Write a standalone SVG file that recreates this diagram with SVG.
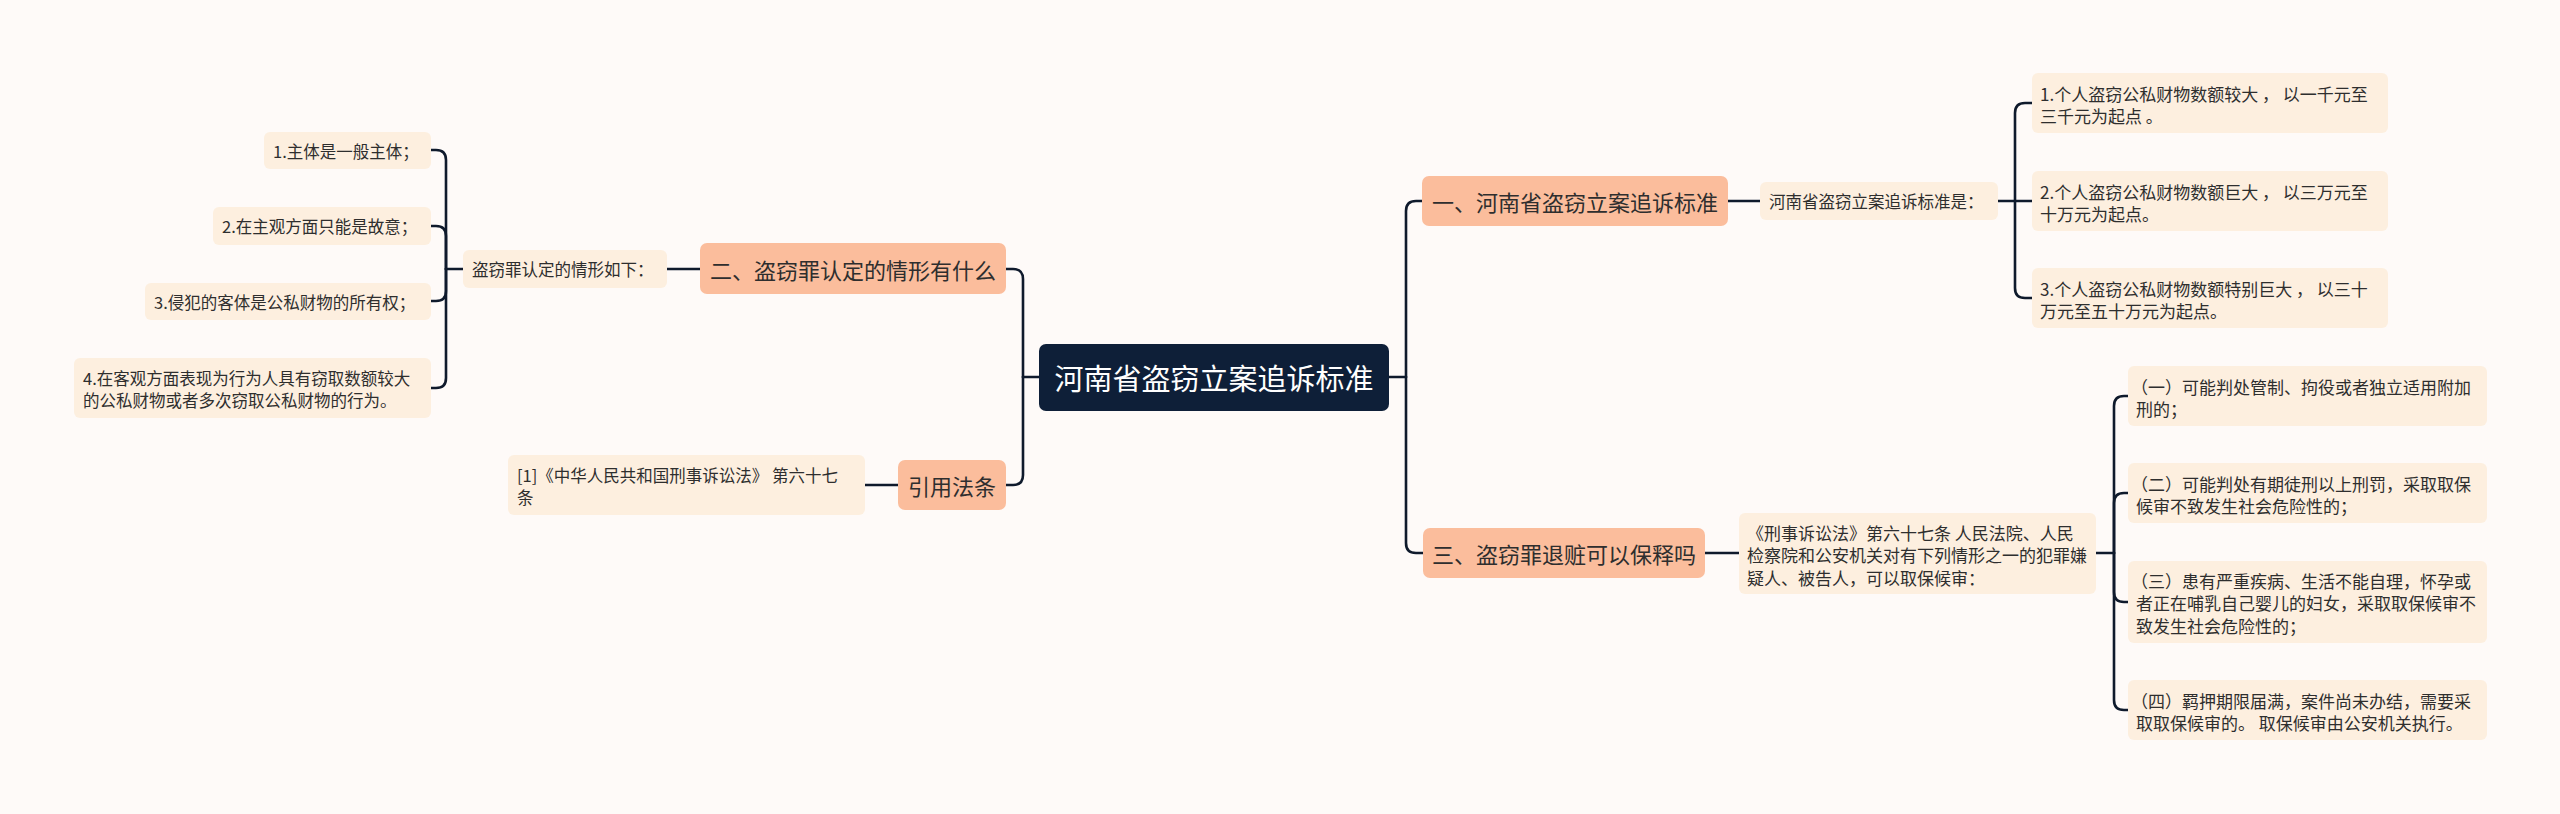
<svg xmlns="http://www.w3.org/2000/svg" width="2560" height="814" viewBox="0 0 2560 814">
<style>
.bg{fill:#fefaf8}
.leaf{fill:#fdefdf}
.l1{fill:#fbbd9c}
.root{fill:#0e1f38}
text{font-family:"Noto Sans CJK SC","Noto Sans",sans-serif;fill:#2e2e2e;dominant-baseline:central}
.t16{font-size:16.5px}
.t17{font-size:17px}
.t22{font-size:22px;text-anchor:middle}
.t29{font-size:29px;text-anchor:middle;fill:#ffffff}
.conn path{fill:none;stroke:#0f1a2c;stroke-width:2.6;stroke-linecap:round}
</style>
<rect class="bg" x="0" y="0" width="2560" height="814"/>
<g id="connectors" class="conn">
<path d="M1039,377 H1023"/>
<path d="M1023,377 V279 Q1023,269 1013,269 H1006"/>
<path d="M1023,377 V475 Q1023,485 1013,485 H1006"/>
<path d="M700,269 H667"/>
<path d="M865,485 H898"/>
<path d="M463,269 H446"/>
<path d="M446,269 V160 Q446,150 436,150 H431"/>
<path d="M446,269 V236 Q446,226 436,226 H431"/>
<path d="M446,269 V291 Q446,301 436,301 H431"/>
<path d="M446,269 V378 Q446,388 436,388 H431"/>
<path d="M1389,377 H1406"/>
<path d="M1406,377 V211 Q1406,201 1416,201 H1422"/>
<path d="M1406,377 V543 Q1406,553 1416,553 H1423"/>
<path d="M1728,201 H1760"/>
<path d="M1998,201 H2032"/>
<path d="M2015,201 V113 Q2015,103 2025,103 H2032"/>
<path d="M2015,201 V288 Q2015,298 2025,298 H2032"/>
<path d="M1705,553 H1739"/>
<path d="M2096,553 H2114"/>
<path d="M2114,553 V406 Q2114,396 2124,396 H2128"/>
<path d="M2114,553 V503 Q2114,493 2124,493 H2128"/>
<path d="M2114,553 V592 Q2114,602 2124,602 H2128"/>
<path d="M2114,553 V700 Q2114,710 2124,710 H2128"/>
</g>
<g id="root">
<rect class="root" x="1039" y="344" width="350" height="67" rx="7"/>
<text class="t29" x="1214" y="377">河南省盗窃立案追诉标准</text>
</g>
<g id="b2">
<rect class="l1" x="700" y="243" width="306" height="51" rx="7"/>
<text class="t22" x="853" y="269">二、盗窃罪认定的情形有什么</text>
</g>
<g id="b2-sub">
<rect class="leaf" x="463" y="250" width="204" height="38" rx="6"/>
<text class="t16" x="472" y="269">盗窃罪认定的情形如下：</text>
</g>
<g id="b2-1">
<rect class="leaf" x="264" y="132" width="167" height="37" rx="6"/>
<text class="t16" x="273" y="150.5">1.主体是一般主体；</text>
</g>
<g id="b2-2">
<rect class="leaf" x="213" y="207" width="218" height="38" rx="6"/>
<text class="t16" x="222" y="226">2.在主观方面只能是故意；</text>
</g>
<g id="b2-3">
<rect class="leaf" x="145" y="283" width="286" height="37" rx="6"/>
<text class="t16" x="154" y="301.5">3.侵犯的客体是公私财物的所有权；</text>
</g>
<g id="b2-4">
<rect class="leaf" x="74" y="358" width="357" height="60" rx="6"/>
<text class="t16" x="83" y="377.5">4.在客观方面表现为行为人具有窃取数额较大</text>
<text class="t16" x="83" y="399.5">的公私财物或者多次窃取公私财物的行为。</text>
</g>
<g id="b4">
<rect class="l1" x="898" y="460" width="108" height="50" rx="7"/>
<text class="t22" x="952" y="485">引用法条</text>
</g>
<g id="b4-1">
<rect class="leaf" x="508" y="455" width="357" height="60" rx="6"/>
<text class="t16" x="517" y="474.5">[1]《中华人民共和国刑事诉讼法》 第六十七</text>
<text class="t16" x="517" y="496.5">条</text>
</g>
<g id="b1">
<rect class="l1" x="1422" y="176" width="306" height="50" rx="7"/>
<text class="t22" x="1575" y="201">一、河南省盗窃立案追诉标准</text>
</g>
<g id="b1-sub">
<rect class="leaf" x="1760" y="182" width="238" height="38" rx="6"/>
<text class="t16" x="1769" y="201">河南省盗窃立案追诉标准是：</text>
</g>
<g id="b1-1">
<rect class="leaf" x="2032" y="73" width="356" height="60" rx="6"/>
<text class="t17" x="2040" y="93">1.个人盗窃公私财物数额较大 ， 以一千元至</text>
<text class="t17" x="2040" y="115">三千元为起点 。</text>
</g>
<g id="b1-2">
<rect class="leaf" x="2032" y="171" width="356" height="60" rx="6"/>
<text class="t17" x="2040" y="191">2.个人盗窃公私财物数额巨大 ， 以三万元至</text>
<text class="t17" x="2040" y="213">十万元为起点。</text>
</g>
<g id="b1-3">
<rect class="leaf" x="2032" y="268" width="356" height="60" rx="6"/>
<text class="t17" x="2040" y="288">3.个人盗窃公私财物数额特别巨大 ， 以三十</text>
<text class="t17" x="2040" y="310">万元至五十万元为起点。</text>
</g>
<g id="b3">
<rect class="l1" x="1423" y="528" width="282" height="50" rx="7"/>
<text class="t22" x="1564" y="553">三、盗窃罪退赃可以保释吗</text>
</g>
<g id="b3-sub">
<rect class="leaf" x="1739" y="513" width="357" height="81" rx="6"/>
<text class="t17" x="1747" y="532">《刑事诉讼法》第六十七条 人民法院、人民</text>
<text class="t17" x="1747" y="554.5">检察院和公安机关对有下列情形之一的犯罪嫌</text>
<text class="t17" x="1747" y="577">疑人、被告人，可以取保候审：</text>
</g>
<g id="b3-1">
<rect class="leaf" x="2128" y="366" width="359" height="60" rx="6"/>
<text class="t17" x="2131" y="386">（一）可能判处管制、拘役或者独立适用附加</text>
<text class="t17" x="2136" y="408">刑的；</text>
</g>
<g id="b3-2">
<rect class="leaf" x="2128" y="463" width="359" height="60" rx="6"/>
<text class="t17" x="2131" y="483">（二）可能判处有期徒刑以上刑罚，采取取保</text>
<text class="t17" x="2136" y="505">候审不致发生社会危险性的；</text>
</g>
<g id="b3-3">
<rect class="leaf" x="2128" y="561" width="359" height="82" rx="6"/>
<text class="t17" x="2131" y="580">（三）患有严重疾病、生活不能自理，怀孕或</text>
<text class="t17" x="2136" y="602.5">者正在哺乳自己婴儿的妇女，采取取保候审不</text>
<text class="t17" x="2136" y="625">致发生社会危险性的；</text>
</g>
<g id="b3-4">
<rect class="leaf" x="2128" y="680" width="359" height="60" rx="6"/>
<text class="t17" x="2131" y="700">（四）羁押期限届满，案件尚未办结，需要采</text>
<text class="t17" x="2136" y="722">取取保候审的。 取保候审由公安机关执行。</text>
</g>
</svg>
